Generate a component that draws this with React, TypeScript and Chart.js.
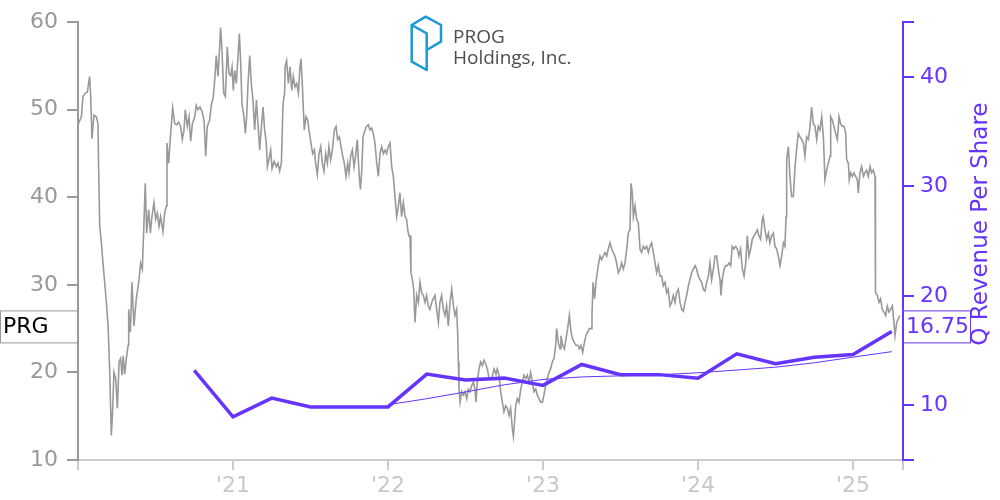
import React, { useEffect, useRef } from 'react';
import { Chart, registerables } from 'chart.js';

Chart.register(...registerables);

const FONT = '"DejaVu Sans", sans-serif';
const PURPLE = '#6633ff';
const GRAY = '#999999';
const LIGHT = '#cccccc';

// Daily close price (decimal year, USD)
const pricePoints: [number, number][] = [
  [2020.000,48.3],[2020.022,49.2],[2020.032,51.5],[2020.047,51.9],[2020.060,52.0],[2020.075,53.8],[2020.082,51.5],[2020.090,46.7],[2020.103,49.4],[2020.118,49.2],[2020.129,48.4],[2020.133,43.5],[2020.140,36.7],[2020.151,34.8],[2020.161,32.5],[2020.172,30.3],[2020.183,28.0],[2020.194,25.3],[2020.204,20.4],[2020.215,12.8],[2020.222,15.1],[2020.232,20.0],[2020.243,19.3],[2020.254,15.9],[2020.265,21.2],[2020.275,21.6],[2020.284,19.7],[2020.292,21.9],[2020.301,19.8],[2020.312,21.6],[2020.323,23.1],[2020.327,27.2],[2020.338,24.6],[2020.348,30.3],[2020.361,25.3],[2020.376,28.4],[2020.394,30.6],[2020.404,32.5],[2020.415,31.8],[2020.424,36.3],[2020.434,41.6],[2020.443,35.9],[2020.456,38.6],[2020.467,35.9],[2020.477,37.8],[2020.490,39.4],[2020.501,37.5],[2020.512,38.2],[2020.523,36.7],[2020.533,37.8],[2020.548,36.1],[2020.559,38.2],[2020.570,39.0],[2020.574,46.2],[2020.585,43.9],[2020.596,46.9],[2020.611,50.2],[2020.624,48.4],[2020.637,48.3],[2020.649,48.6],[2020.662,48.1],[2020.673,46.6],[2020.684,47.7],[2020.692,50.0],[2020.705,48.1],[2020.716,49.2],[2020.727,46.4],[2020.738,48.4],[2020.753,49.2],[2020.763,50.5],[2020.774,50.0],[2020.787,50.3],[2020.800,49.8],[2020.813,48.8],[2020.824,44.7],[2020.834,48.1],[2020.849,48.8],[2020.860,50.5],[2020.873,51.5],[2020.882,53.4],[2020.892,56.2],[2020.903,53.8],[2020.914,57.2],[2020.920,59.4],[2020.929,56.8],[2020.940,51.9],[2020.951,51.5],[2020.963,57.2],[2020.974,54.1],[2020.985,53.9],[2020.994,54.9],[2021.002,52.2],[2021.011,54.5],[2021.022,53.0],[2021.032,56.0],[2021.041,58.7],[2021.049,55.6],[2021.058,50.7],[2021.071,49.2],[2021.080,47.3],[2021.088,49.2],[2021.097,53.0],[2021.108,56.2],[2021.118,53.0],[2021.129,51.1],[2021.140,47.7],[2021.151,51.1],[2021.161,48.4],[2021.172,45.4],[2021.183,48.1],[2021.194,50.3],[2021.204,47.7],[2021.215,46.2],[2021.222,43.5],[2021.232,44.3],[2021.243,45.4],[2021.252,43.3],[2021.265,44.1],[2021.280,43.5],[2021.290,43.9],[2021.301,43.0],[2021.312,43.9],[2021.323,50.7],[2021.333,51.9],
  [2021.336,54.9],[2021.346,55.6],[2021.357,53.0],[2021.368,54.9],[2021.379,52.2],[2021.389,53.8],[2021.400,52.6],[2021.411,53.0],[2021.422,51.9],[2021.432,54.9],[2021.439,55.8],[2021.447,53.0],[2021.454,50.0],[2021.460,47.7],[2021.471,49.2],[2021.482,48.8],[2021.490,47.7],[2021.503,46.2],[2021.514,45.0],[2021.525,45.4],[2021.533,43.9],[2021.544,42.6],[2021.555,45.0],[2021.566,45.8],[2021.576,43.9],[2021.587,43.0],[2021.598,45.0],[2021.609,43.9],[2021.619,45.8],[2021.630,44.3],[2021.641,45.4],[2021.654,47.7],[2021.665,48.1],[2021.675,46.6],[2021.686,46.9],[2021.697,45.8],[2021.708,44.7],[2021.718,43.9],[2021.729,42.4],[2021.740,43.9],[2021.748,42.8],[2021.759,44.7],[2021.770,45.4],[2021.781,43.5],[2021.791,44.7],[2021.802,46.6],[2021.813,42.8],[2021.822,40.9],[2021.830,42.8],[2021.839,46.9],[2021.852,47.7],[2021.862,48.1],[2021.873,48.3],[2021.884,47.7],[2021.895,47.9],[2021.905,47.3],[2021.916,46.2],[2021.927,43.9],[2021.938,42.4],[2021.948,45.0],[2021.959,45.8],[2021.970,45.0],[2021.981,45.4],[2021.991,45.0],[2022.002,45.8],[2022.013,46.2],[2022.024,43.5],[2022.034,42.4],[2022.045,40.1],[2022.056,37.8],[2022.067,39.0],[2022.077,40.5],[2022.088,37.8],[2022.099,39.4],[2022.110,37.8],[2022.120,37.5],[2022.127,36.3],[2022.135,35.6],[2022.142,35.6],[2022.148,31.4],[2022.157,30.6],[2022.166,29.5],[2022.174,25.7],[2022.185,28.8],[2022.196,28.0],[2022.206,30.3],[2022.217,29.1],[2022.228,28.8],[2022.239,28.0],[2022.249,28.8],[2022.260,27.6],[2022.271,27.2],[2022.282,28.0],[2022.292,28.4],[2022.303,28.8],[2022.314,27.2],[2022.325,25.7],[2022.335,28.0],[2022.346,28.8],[2022.357,27.2],[2022.368,26.5],[2022.378,27.6],[2022.389,25.3],[2022.400,28.0],[2022.411,29.5],[2022.422,27.6],[2022.432,26.5],[2022.443,27.2],[2022.450,24.2],[2022.454,21.2],[2022.458,18.1],[2022.465,16.6],[2022.475,17.8],[2022.486,17.4],[2022.497,17.8],[2022.508,17.0],[2022.518,18.1],[2022.529,17.8],[2022.540,18.5],[2022.551,18.9],[2022.561,18.1],[2022.568,16.6],[2022.576,18.9],[2022.587,20.4],[2022.598,21.2],[2022.609,20.8],[2022.619,21.4],[2022.630,21.0],[2022.641,20.4],[2022.652,19.3],
  [2022.669,19.3],[2022.684,20.4],[2022.697,19.8],[2022.705,20.4],[2022.716,19.7],[2022.727,17.8],[2022.738,16.6],[2022.748,15.5],[2022.759,16.2],[2022.770,15.9],[2022.781,15.1],[2022.791,15.9],[2022.802,13.6],[2022.809,12.7],[2022.815,14.0],[2022.824,16.2],[2022.834,17.0],[2022.845,16.6],[2022.856,18.1],[2022.867,18.9],[2022.877,19.7],[2022.888,19.3],[2022.899,19.7],[2022.910,18.9],[2022.920,20.0],[2022.931,18.9],[2022.942,17.8],[2022.953,18.1],[2022.963,17.4],[2022.974,17.0],[2022.985,16.6],[2022.996,16.6],[2023.006,17.4],[2023.017,18.5],[2023.028,19.3],[2023.039,20.0],[2023.049,20.4],[2023.060,21.2],[2023.071,21.6],[2023.082,23.1],[2023.088,25.0],[2023.099,23.4],[2023.110,22.7],[2023.116,24.2],[2023.127,23.1],[2023.138,22.7],[2023.148,23.8],[2023.159,25.0],[2023.170,26.5],[2023.181,24.6],[2023.191,23.8],[2023.202,23.4],[2023.213,23.1],[2023.224,23.1],[2023.234,22.7],[2023.245,23.1],[2023.256,22.3],[2023.267,23.4],[2023.277,24.2],[2023.288,24.6],[2023.299,25.0],[2023.310,25.0],[2023.316,26.5],[2023.323,30.3],[2023.333,28.4],[2023.342,30.3],[2023.350,31.4],[2023.359,32.5],[2023.368,33.3],[2023.378,32.9],[2023.389,33.3],[2023.400,33.7],[2023.411,33.3],[2023.421,34.1],[2023.432,34.8],[2023.443,34.1],[2023.454,33.7],[2023.464,33.3],[2023.475,32.5],[2023.486,31.4],[2023.497,31.8],[2023.507,32.5],[2023.518,31.8],[2023.529,32.5],[2023.540,34.1],[2023.550,35.9],[2023.561,36.3],[2023.568,41.6],[2023.576,40.5],[2023.583,37.8],[2023.594,39.0],[2023.604,37.5],[2023.615,37.1],[2023.626,34.1],[2023.636,33.7],[2023.647,34.4],[2023.658,34.1],[2023.669,34.4],[2023.680,33.7],[2023.690,34.4],[2023.701,34.8],[2023.712,33.7],[2023.723,32.5],[2023.733,31.4],[2023.744,32.2],[2023.755,31.0],[2023.766,31.0],[2023.776,29.9],[2023.787,30.3],[2023.798,29.1],[2023.808,29.5],[2023.819,27.6],[2023.830,28.0],[2023.841,28.8],[2023.852,28.0],[2023.862,29.1],[2023.873,29.5],[2023.884,28.0],[2023.895,27.2],[2023.905,27.0],[2023.916,28.0],[2023.927,28.8],[2023.938,29.9],[2023.948,30.6],[2023.959,31.4],[2023.970,31.8],[2023.981,32.2],
  [2023.991,31.8],[2024.002,31.0],[2024.013,30.6],[2024.024,30.3],[2024.034,29.5],[2024.045,29.3],[2024.056,30.3],[2024.067,31.0],[2024.077,32.5],[2024.088,30.6],[2024.099,31.8],[2024.110,33.3],[2024.120,33.3],[2024.131,31.8],[2024.142,30.6],[2024.148,28.8],[2024.157,30.6],[2024.168,31.8],[2024.178,32.2],[2024.189,32.2],[2024.200,32.5],[2024.211,32.2],[2024.221,34.4],[2024.232,34.1],[2024.243,34.4],[2024.254,34.1],[2024.264,33.3],[2024.275,34.1],[2024.286,31.8],[2024.297,31.0],[2024.308,32.5],[2024.318,35.6],[2024.329,33.3],[2024.340,34.1],[2024.350,35.2],[2024.361,35.6],[2024.372,35.9],[2024.383,36.3],[2024.393,35.6],[2024.404,35.2],[2024.415,37.5],[2024.421,37.8],[2024.432,36.3],[2024.443,35.2],[2024.454,35.9],[2024.464,34.8],[2024.475,35.6],[2024.486,35.9],[2024.497,34.4],[2024.508,34.1],[2024.518,33.3],[2024.529,32.2],[2024.540,33.3],[2024.551,34.8],[2024.561,34.4],[2024.568,37.8],[2024.572,44.3],[2024.583,45.8],[2024.593,42.4],[2024.604,40.1],[2024.615,40.1],[2024.626,43.5],[2024.636,45.4],[2024.647,47.3],[2024.658,46.9],[2024.669,46.6],[2024.680,46.2],[2024.690,44.7],[2024.701,46.9],[2024.712,46.6],[2024.723,48.1],[2024.733,50.3],[2024.744,48.4],[2024.755,48.1],[2024.766,46.6],[2024.776,48.1],[2024.787,47.7],[2024.798,49.2],[2024.809,46.9],[2024.819,42.0],[2024.830,43.1],[2024.841,43.9],[2024.852,44.7],[2024.856,49.2],[2024.867,48.8],[2024.877,48.1],[2024.888,47.3],[2024.899,46.6],[2024.910,49.2],[2024.920,48.4],[2024.931,48.1],[2024.942,48.1],[2024.953,47.3],[2024.959,44.3],[2024.970,43.9],[2024.976,42.0],[2024.985,42.8],[2024.996,42.4],[2025.006,42.8],[2025.017,42.4],[2025.028,42.0],[2025.034,40.5],[2025.045,42.8],[2025.056,43.5],[2025.067,42.4],[2025.077,42.8],[2025.088,43.1],[2025.099,42.4],[2025.110,43.5],[2025.120,42.8],[2025.131,43.1],[2025.142,42.4],[2025.144,34.1],[2025.146,29.1],[2025.157,28.8],[2025.168,28.0],[2025.178,28.4],[2025.189,27.2],[2025.200,26.9],[2025.211,26.5],[2025.221,27.6],[2025.232,26.9],[2025.243,27.2],[2025.254,27.6],[2025.264,25.7],[2025.271,24.2],[2025.282,25.7],[2025.292,26.1],[2025.302,26.5]
];

// Quarterly revenue per share
const revenueQuarters = [2020.75, 2021.0, 2021.25, 2021.5, 2021.75, 2022.0, 2022.25, 2022.5, 2022.75, 2023.0, 2023.25, 2023.5, 2023.75, 2024.0, 2024.25, 2024.5, 2024.75, 2025.0, 2025.25];
const revenueValues = [13.18, 8.94, 10.66, 9.85, 9.85, 9.85, 12.85, 12.3, 12.48, 11.82, 13.73, 12.79, 12.8, 12.48, 14.7, 13.79, 14.39, 14.64, 16.75];

// Thin trend line (trailing average)
const trendQuarters = [2022.0, 2022.25, 2022.5, 2022.75, 2023.0, 2023.25, 2023.5, 2023.75, 2024.0, 2024.25, 2024.5, 2024.75, 2025.0, 2025.25];
const trendValues = [10.05, 10.6, 11.22, 11.87, 12.36, 12.59, 12.69, 12.79, 12.97, 13.22, 13.48, 13.88, 14.4, 14.9];

const X_MIN = 2020;
const X_MAX = 2025.3226;
const xTickValues = [2020, 2021, 2022, 2023, 2024, 2025, X_MAX];
const xTickLabels = ['', "'21", "'22", "'23", "'24", "'25", ''];
const leftTickValues = [10, 20, 30, 40, 50, 60];
const rightTickValues = [5, 10, 20, 30, 40, 45];
const rightTickLabels = ['', '10', '20', '30', '40', ''];

const tickerLabel = 'PRG';
const rightTitle = 'Q Revenue Per Share';
const companyLine1 = 'PROG';
const companyLine2 = 'Holdings, Inc.';

const decorPlugin = {
  id: 'decor',
  afterDraw(chart: any) {
    const ctx = chart.ctx as CanvasRenderingContext2D;
    const yR = chart.scales.y1;
    const lastRev = revenueValues[revenueValues.length - 1];
    const boxY = yR.getPixelForValue(lastRev) - 5;
    const boxH = 32;
    ctx.save();
    ctx.font = `22px ${FONT}`;
    ctx.textBaseline = 'middle';
    ctx.textAlign = 'left';
    // Left ticker box
    ctx.fillStyle = '#ffffff';
    ctx.fillRect(0.5, boxY - boxH / 2, 77, boxH);
    ctx.strokeStyle = GRAY;
    ctx.lineWidth = 1;
    ctx.strokeRect(0.5, boxY - boxH / 2 + 0.5, 77, boxH);
    ctx.fillStyle = '#000000';
    ctx.fillText(tickerLabel, 3, boxY + 1);
    // Right value box
    const rx = chart.chartArea.right;
    ctx.fillStyle = '#ffffff';
    ctx.fillRect(rx, boxY - boxH / 2, 67, boxH);
    ctx.strokeStyle = PURPLE;
    ctx.strokeRect(rx + 0.5, boxY - boxH / 2 + 0.5, 67, boxH);
    ctx.fillStyle = PURPLE;
    ctx.fillText(lastRev.toFixed(2), rx + 3, boxY + 1);
    // Right axis title
    ctx.save();
    ctx.translate(981, (chart.chartArea.top + chart.chartArea.bottom) / 2 - 17);
    ctx.rotate(-Math.PI / 2);
    ctx.textAlign = 'center';
    ctx.textBaseline = 'middle';
    ctx.font = `23px ${FONT}`;
    ctx.fillStyle = PURPLE;
    ctx.fillText(rightTitle, 0, 0);
    ctx.restore();
    // Logo
    ctx.strokeStyle = '#1a9ad6';
    ctx.lineWidth = 2.5;
    ctx.lineJoin = 'round';
    ctx.beginPath();
    ctx.moveTo(411.7, 25); ctx.lineTo(425.7, 16.7); ctx.lineTo(441, 25); ctx.lineTo(441, 41.7); ctx.lineTo(426.7, 50);
    ctx.moveTo(411.7, 25); ctx.lineTo(426.7, 33.3); ctx.lineTo(426.7, 70); ctx.lineTo(411.7, 61.7); ctx.closePath();
    ctx.stroke();
    ctx.fillStyle = '#4d4d4d';
    ctx.font = '19px "Open Sans", sans-serif';
    ctx.textAlign = 'left';
    ctx.textBaseline = 'alphabetic';
    ctx.fillText(companyLine1, 453, 43);
    ctx.fillText(companyLine2, 453, 64);
    ctx.restore();
  },
};

export default function App() {
  const ref = useRef<HTMLCanvasElement | null>(null);
  useEffect(() => {
    document.body.style.margin = '0';
    if (!ref.current) return;
    const chart = new Chart(ref.current, {
      type: 'line',
      data: {
        datasets: [
          {
            label: 'Q Revenue Per Share',
            data: revenueQuarters.map((x, i) => ({ x, y: revenueValues[i] })),
            yAxisID: 'y1',
            borderColor: PURPLE,
            borderWidth: 3.5,
            pointRadius: 0,
            tension: 0,
          },
          {
            label: 'Trend',
            data: trendQuarters.map((x, i) => ({ x, y: trendValues[i] })),
            yAxisID: 'y1',
            borderColor: PURPLE,
            borderWidth: 1,
            pointRadius: 0,
            tension: 0,
          },
          {
            label: 'PRG',
            data: pricePoints.map(([x, y]) => ({ x, y })),
            yAxisID: 'y',
            borderColor: GRAY,
            borderWidth: 1.6,
            pointRadius: 0,
            tension: 0,
          },
        ],
      },
      options: {
        animation: false,
        responsive: false,
        maintainAspectRatio: false,
        parsing: true,
        layout: { padding: { top: 20, left: 0, right: 0, bottom: 0 } },
        plugins: { legend: { display: false }, tooltip: { enabled: false } },
        scales: {
          x: {
            type: 'linear',
            min: X_MIN,
            max: X_MAX,
            afterBuildTicks: (s: any) => { s.ticks = xTickValues.map((v) => ({ value: v })); },
            afterFit: (s: any) => { s.height = 40; },
            ticks: {
              callback: (_v: any, i: number) => xTickLabels[i],
              color: '#c8c8c8',
              font: { family: FONT, size: 22 },
              padding: 3,
              autoSkip: false,
              maxRotation: 0,
            },
            grid: { drawOnChartArea: false, tickLength: 10, color: LIGHT, lineWidth: 2 },
            border: { color: LIGHT, width: 2 },
          },
          y: {
            position: 'left',
            min: 10,
            max: 60,
            afterBuildTicks: (s: any) => { s.ticks = leftTickValues.map((v) => ({ value: v })); },
            afterFit: (s: any) => { s.width = 78; },
            ticks: { color: GRAY, font: { family: FONT, size: 22 }, padding: 9, callback: (v: any) => String(v) },
            grid: { drawOnChartArea: false, tickLength: 11, color: GRAY, lineWidth: 2 },
            border: { color: GRAY, width: 2 },
          },
          y1: {
            position: 'right',
            min: 5,
            max: 45,
            afterBuildTicks: (s: any) => { s.ticks = rightTickValues.map((v) => ({ value: v })); },
            afterFit: (s: any) => { s.width = 97; },
            ticks: {
              color: PURPLE,
              font: { family: FONT, size: 22 },
              padding: 6,
              callback: (_v: any, i: number) => rightTickLabels[i],
            },
            grid: { drawOnChartArea: false, tickLength: 11, color: PURPLE, lineWidth: 2 },
            border: { color: PURPLE, width: 2 },
          },
        },
      },
      plugins: [decorPlugin],
    } as any);
    return () => chart.destroy();
  }, []);
  return (
    <div style={{ width: 1000, height: 500 }}>
      <canvas ref={ref} width={1000} height={500} style={{ width: 1000, height: 500, display: 'block' }} />
    </div>
  );
}
